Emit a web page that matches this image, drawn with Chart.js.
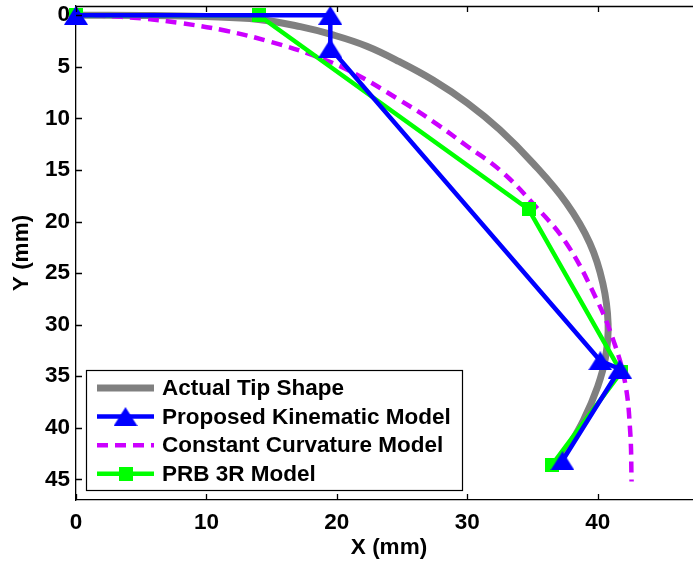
<!DOCTYPE html>
<html>
<head>
<meta charset="utf-8">
<title>Tip shape comparison</title>
<script src="https://cdn.jsdelivr.net/npm/chart.js@4.4.1/dist/chart.umd.min.js"></script>
<style>
  html, body { margin: 0; padding: 0; background: #fff; overflow: hidden; }
  #tipChart { display: block; }
</style>
</head>
<body>
<canvas id="tipChart" width="702" height="561"></canvas>
<script>
const seriesNames = ['Actual Tip Shape', 'Proposed Kinematic Model', 'Constant Curvature Model', 'PRB 3R Model'];

// measured tip centreline (mm)
const tipX = [0, 5, 10, 14, 17.2, 19.7, 22.3, 24.8, 27.4, 30, 32.5, 35.05, 37.6, 39.4, 40.4, 40.8, 40.6, 40.0, 38.9, 37.6, 37.3];
const tipY = [0, 0.02, 0.13, 0.4, 1.1, 1.9, 3.0, 4.5, 6.3, 8.5, 11.1, 14.35, 18.2, 22.1, 26, 29.9, 33.2, 36.0, 39.3, 42.2, 42.8];

// proposed kinematic model joints
const kinX = [0, 19.5, 19.5, 40.2, 41.7, 37.3];
const kinY = [0, 0, 3.2, 33.5, 34.3, 43.2];

// constant curvature arc
const ccX = [0, 2, 5, 8, 11.5, 15, 18.2, 21, 24.8, 27.5, 30, 32.5, 35, 37.6, 39.9, 41.2, 42.1, 42.5, 42.6];
const ccY = [0, 0.05, 0.3, 0.75, 1.5, 2.6, 3.9, 5.4, 8.2, 10.4, 12.7, 15, 18.2, 22.1, 27.5, 31.5, 35.6, 40.5, 45.2];

// pseudo-rigid-body 3R joints
const prbX = [0, 14, 34.7, 41.8, 36.5];
const prbY = [0, 0, 18.8, 34.6, 43.6];

const xTicks = [0, 10, 20, 30, 40];
const yTicks = [0, 5, 10, 15, 20, 25, 30, 35, 40, 45];

function toPoints(xs, ys) {
  return xs.map((x, i) => ({ x: x, y: ys[i] }));
}

// matlab style '^' and 's' markers as little canvases
function triangleMarker(w, h, color) {
  const c = document.createElement('canvas');
  c.width = w; c.height = h;
  const g = c.getContext('2d');
  g.fillStyle = color;
  g.beginPath();
  g.moveTo(w / 2, 0);
  g.lineTo(w, h);
  g.lineTo(0, h);
  g.closePath();
  g.fill();
  return c;
}
function squareMarker(s, color) {
  const c = document.createElement('canvas');
  c.width = s; c.height = s;
  const g = c.getContext('2d');
  g.fillStyle = color;
  g.fillRect(0, 0, s, s);
  return c;
}

const triBlue = triangleMarker(24, 19, '#0000FF');
const sqGreen = squareMarker(14, '#00FF00');

const FONT = '"Liberation Sans", Arial, Helvetica, sans-serif';
Chart.defaults.font.family = FONT;
Chart.defaults.font.size = 22.5;
Chart.defaults.font.weight = 'bold';
Chart.defaults.color = '#000';

// no extra room for end labels, the box is placed exactly
function noPad(s) {
  s.paddingTop = 0; s.paddingBottom = 0; s.paddingLeft = 0; s.paddingRight = 0;
}

// inward tick marks, top edge of the box and the legend panel
const axisDecor = {
  id: 'axisDecor',
  afterDraw(chart) {
    const { ctx, chartArea: a, scales } = chart;
    const sx = scales.x, sy = scales.y;
    ctx.save();
    ctx.strokeStyle = '#000';
    ctx.lineWidth = 1.3;
    ctx.beginPath();
    ctx.moveTo(a.left, a.top + 0.5);
    ctx.lineTo(a.right, a.top + 0.5);
    xTicks.forEach(v => {
      const px = Math.round(sx.getPixelForValue(v)) + 0.5;
      ctx.moveTo(px, a.bottom);
      ctx.lineTo(px, a.bottom - 6);
      ctx.moveTo(px, a.top);
      ctx.lineTo(px, a.top + 6);
    });
    yTicks.forEach(v => {
      const py = Math.round(sy.getPixelForValue(v)) + 0.5;
      ctx.moveTo(a.left, py);
      ctx.lineTo(a.left + 6, py);
    });
    ctx.stroke();

    // legend box
    const box = { left: 86, top: 370, right: 462, bottom: 490 };
    ctx.fillStyle = '#fff';
    ctx.fillRect(box.left, box.top, box.right - box.left, box.bottom - box.top);
    ctx.lineWidth = 1.2;
    ctx.strokeRect(box.left + 0.5, box.top + 0.5, box.right - box.left, box.bottom - box.top);

    ctx.font = 'bold 22.5px ' + FONT;
    ctx.textBaseline = 'middle';
    chart.data.datasets.forEach((ds, i) => {
      const yRow = 388 + i * 28.6;
      ctx.save();
      ctx.strokeStyle = ds.borderColor;
      ctx.lineWidth = ds.borderWidth;
      ctx.setLineDash(ds.borderDash || []);
      ctx.beginPath();
      ctx.moveTo(97, yRow);
      ctx.lineTo(154, yRow);
      ctx.stroke();
      ctx.restore();
      if (ds.pointStyle && typeof ds.pointStyle === 'object') {
        const m = ds.pointStyle;
        ctx.drawImage(m, 125.5 - m.width / 2, yRow - m.height / 2);
      }
      ctx.fillStyle = '#000';
      ctx.fillText(ds.label, 162, yRow + 1);
    });
    ctx.restore();
  }
};

new Chart(document.getElementById('tipChart'), {
  type: 'scatter',
  data: {
    datasets: [
      {
        label: seriesNames[0],
        data: toPoints(tipX, tipY),
        showLine: true,
        borderColor: '#808080',
        borderWidth: 7,
        pointRadius: 0,
        tension: 0.4,
        clip: false,
        order: 4
      },
      {
        label: seriesNames[1],
        data: toPoints(kinX, kinY),
        showLine: true,
        borderColor: '#0000FF',
        backgroundColor: '#0000FF',
        borderWidth: 4.5,
        pointStyle: triBlue,
        pointRadius: 10,
        clip: false,
        order: 1
      },
      {
        label: seriesNames[2],
        data: toPoints(ccX, ccY),
        showLine: true,
        borderColor: '#CC00FF',
        borderWidth: 4.5,
        borderDash: [11, 7],
        pointRadius: 0,
        tension: 0.4,
        clip: false,
        order: 3
      },
      {
        label: seriesNames[3],
        data: toPoints(prbX, prbY),
        showLine: true,
        borderColor: '#00FF00',
        backgroundColor: '#00FF00',
        borderWidth: 4.5,
        pointStyle: sqGreen,
        pointRadius: 8,
        clip: false,
        order: 2
      }
    ]
  },
  options: {
    responsive: false,
    animation: false,
    events: [],
    layout: { autoPadding: false, padding: { top: 6, right: 0, bottom: 0, left: 0 } },
    plugins: {
      legend: { display: false },
      tooltip: { enabled: false }
    },
    scales: {
      x: {
        type: 'linear',
        min: 0,
        max: 48,
        afterBuildTicks: s => { s.ticks = xTicks.map(v => ({ value: v })); },
        afterFit: s => { s.height = 61; noPad(s); },
        grid: { display: false, drawTicks: false },
        border: { display: true, color: '#000', width: 1.3 },
        ticks: { padding: 9, color: '#000', maxRotation: 0 },
        title: { display: true, text: 'X (mm)', color: '#000', padding: { top: 0, bottom: 0 } }
      },
      y: {
        type: 'linear',
        reverse: true,
        min: -0.9,
        max: 47,
        afterBuildTicks: s => { s.ticks = yTicks.map(v => ({ value: v })); },
        afterFit: s => { s.width = 76; noPad(s); },
        grid: { display: false, drawTicks: false },
        border: { display: true, color: '#000', width: 1.3 },
        ticks: { padding: 6, color: '#000' },
        title: { display: true, text: 'Y (mm)', color: '#000', padding: { top: 8, bottom: 0 } }
      }
    }
  },
  plugins: [axisDecor]
});
</script>
</body>
</html>
